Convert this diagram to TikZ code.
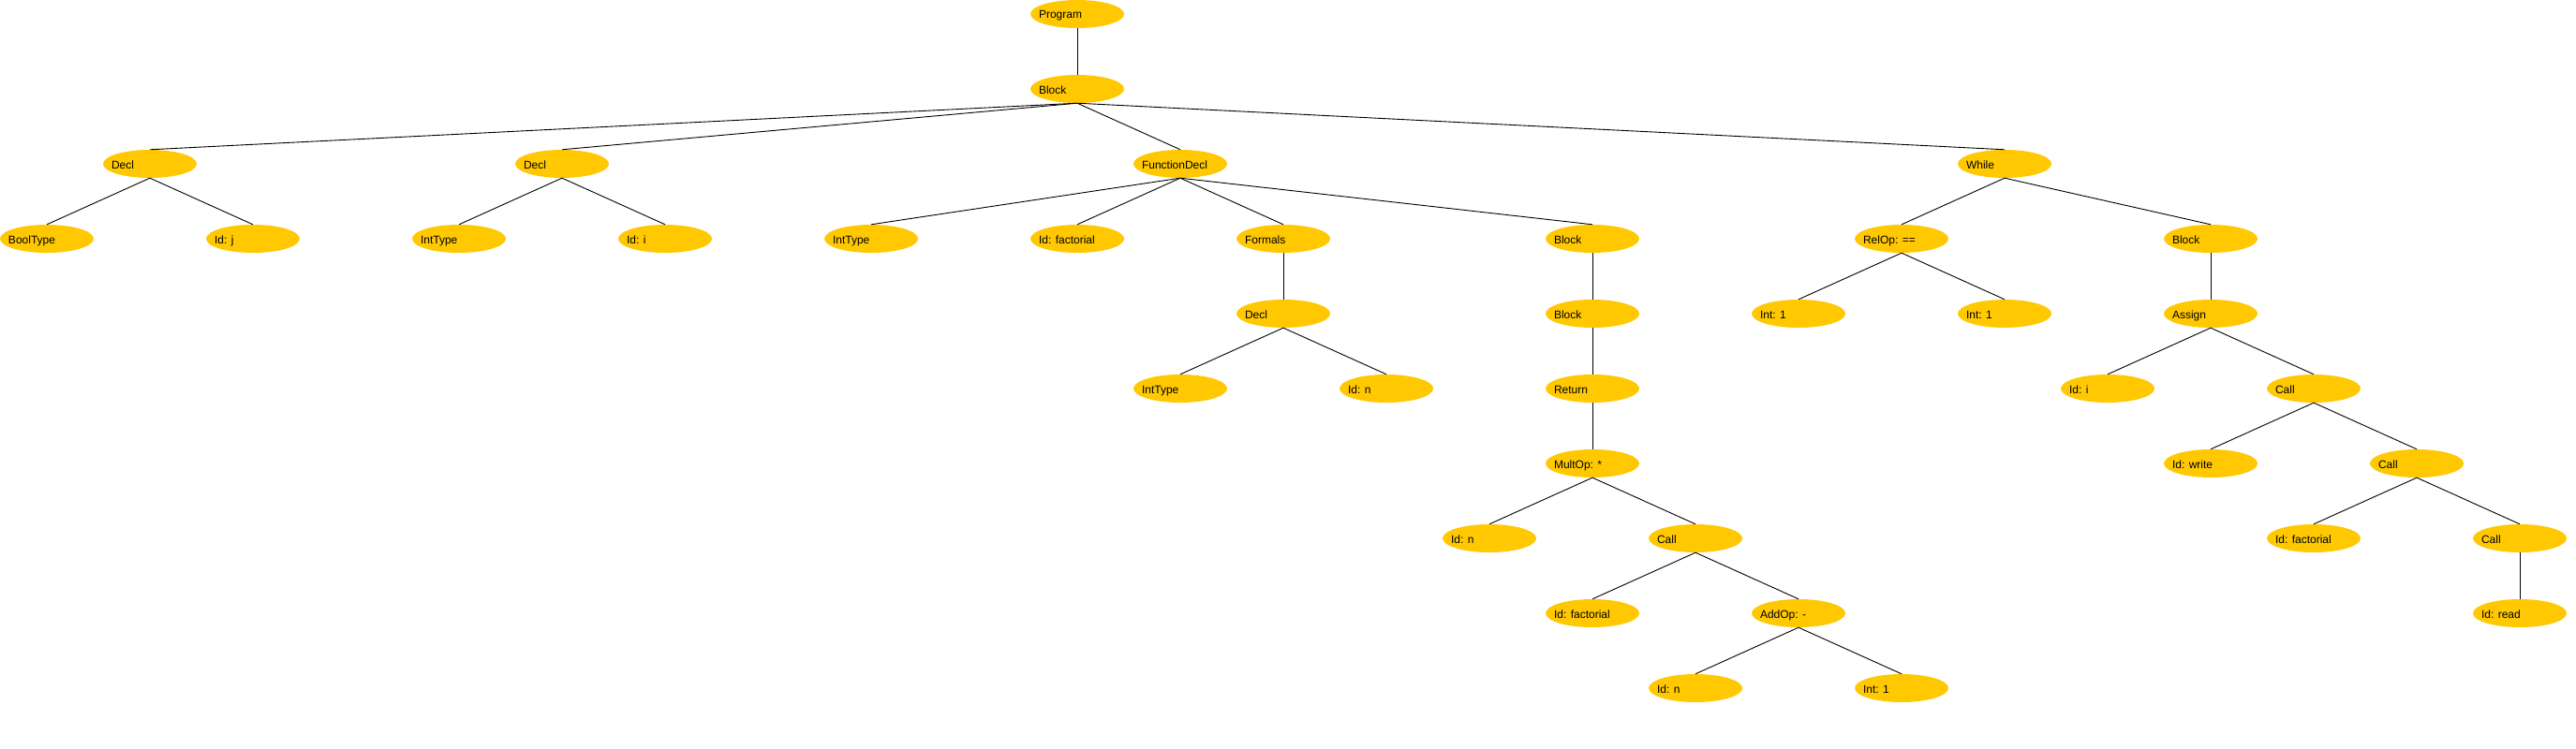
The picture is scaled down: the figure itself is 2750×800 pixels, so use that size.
\documentclass[tikz,border=0pt]{standalone}
\usepackage{fontspec}
\setmainfont{Liberation Sans}
\usetikzlibrary{shapes.geometric}
\definecolor{nodeyellow}{RGB}{255,200,0}
\tikzset{
  el/.style={ellipse, fill=nodeyellow, draw=none, minimum width=100pt, minimum height=30pt, inner sep=0pt},
  lbl/.style={anchor=base west, inner sep=0pt, font=\fontsize{12}{14}\selectfont, text=black},
  edge/.style={draw=black, line width=0.9pt}
}
\newcommand\astnode[4]{%
  \node[el] (#1) at (#2,{15+80*#3}) {};
  \node[lbl] (#1t) at ([shift={(9,5)}]#1.west) {#4};}
\newcommand\astedge[2]{\draw[edge] (#1.south) -- (#2.north);}
\begin{document}
\begin{tikzpicture}[x=1pt,y=-1pt]
\useasboundingbox (0,0) rectangle (2750,800);
% level 0-1
\astnode{prog}{1150}{0}{Program}
\astnode{blk}{1150}{1}{Block}
% level 2
\astnode{declA}{160}{2}{Decl}
\astnode{declB}{600}{2}{Decl}
\astnode{fdecl}{1260}{2}{FunctionDecl}
\astnode{while}{2140}{2}{While}
% level 3
\astnode{booltype}{50}{3}{BoolType}
\astnode{idj}{270}{3}{Id: j}
\astnode{inttypeA}{490}{3}{IntType}
\astnode{idiA}{710}{3}{Id: i}
\astnode{inttypeB}{930}{3}{IntType}
\astnode{idfactA}{1150}{3}{Id: factorial}
\astnode{formals}{1370}{3}{Formals}
\astnode{blkA}{1700}{3}{Block}
\astnode{relop}{2030}{3}{RelOp: ==}
\astnode{blkW}{2360}{3}{Block}
% level 4
\astnode{declC}{1370}{4}{Decl}
\astnode{blkB}{1700}{4}{Block}
\astnode{intA}{1920}{4}{Int: 1}
\astnode{intB}{2140}{4}{Int: 1}
\astnode{assign}{2360}{4}{Assign}
% level 5
\astnode{inttypeC}{1260}{5}{IntType}
\astnode{idnA}{1480}{5}{Id: n}
\astnode{ret}{1700}{5}{Return}
\astnode{idiB}{2250}{5}{Id: i}
\astnode{callA}{2470}{5}{Call}
% level 6
\astnode{mult}{1700}{6}{MultOp: *}
\astnode{idwrite}{2360}{6}{Id: write}
\astnode{callB}{2580}{6}{Call}
% level 7
\astnode{idnB}{1590}{7}{Id: n}
\astnode{callC}{1810}{7}{Call}
\astnode{idfactB}{2470}{7}{Id: factorial}
\astnode{callD}{2690}{7}{Call}
% level 8
\astnode{idfactC}{1700}{8}{Id: factorial}
\astnode{addop}{1920}{8}{AddOp: -}
\astnode{idread}{2690}{8}{Id: read}
% level 9
\astnode{idnC}{1810}{9}{Id: n}
\astnode{intC}{2030}{9}{Int: 1}
% edges
\astedge{prog}{blk}
\astedge{blk}{declA}
\astedge{blk}{declB}
\astedge{blk}{fdecl}
\astedge{blk}{while}
\astedge{declA}{booltype}
\astedge{declA}{idj}
\astedge{declB}{inttypeA}
\astedge{declB}{idiA}
\astedge{fdecl}{inttypeB}
\astedge{fdecl}{idfactA}
\astedge{fdecl}{formals}
\astedge{fdecl}{blkA}
\astedge{formals}{declC}
\astedge{declC}{inttypeC}
\astedge{declC}{idnA}
\astedge{blkA}{blkB}
\astedge{blkB}{ret}
\astedge{ret}{mult}
\astedge{mult}{idnB}
\astedge{mult}{callC}
\astedge{callC}{idfactC}
\astedge{callC}{addop}
\astedge{addop}{idnC}
\astedge{addop}{intC}
\astedge{while}{relop}
\astedge{while}{blkW}
\astedge{relop}{intA}
\astedge{relop}{intB}
\astedge{blkW}{assign}
\astedge{assign}{idiB}
\astedge{assign}{callA}
\astedge{callA}{idwrite}
\astedge{callA}{callB}
\astedge{callB}{idfactB}
\astedge{callB}{callD}
\astedge{callD}{idread}
\end{tikzpicture}
\end{document}
